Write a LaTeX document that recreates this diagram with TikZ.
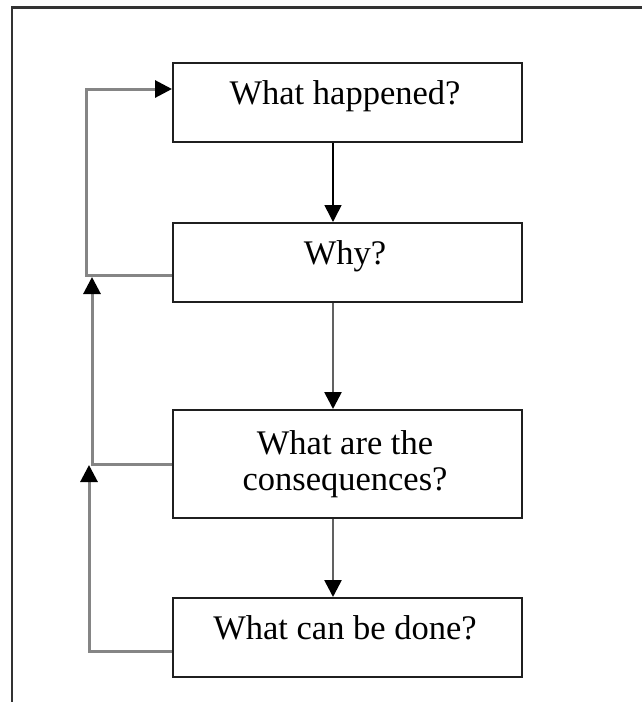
\documentclass[tikz,border=0pt]{standalone}
\usepackage{fontspec}
\setmainfont{Liberation Serif}
\usetikzlibrary{arrows.meta}

\begin{document}
\begin{tikzpicture}[x=1pt, y=-1pt,
  stepbox/.style={draw=black!88, line width=2pt, minimum width=349pt,
    minimum height=79pt, inner sep=0pt, anchor=north west},
  lbl/.style={font=\fontsize{34.5}{36}\selectfont, align=center, anchor=base, inner sep=0pt},
  tip/.style={-{Triangle[length=17pt, width=17pt, color=black]}},
  flow/.style={tip, line width=2.6pt, draw=black!62},
  back/.style={tip, line width=3pt, draw=black!48, line join=miter}]

  \useasboundingbox (0,0) rectangle (642,702);

  % outer frame (top and left edges only)
  \draw[line width=2.6pt, draw=black!80] (642,7.5) -- (12,7.5) -- (12,702);

  % the four question boxes
  \node (b1) [stepbox] at (172,62) {};
  \node (b2) [stepbox] at (172,222) {};
  \node (b3) [stepbox, minimum height=108pt] at (172,409) {};
  \node (b4) [stepbox] at (172,597) {};

  % their texts (base anchor of a two-line node sits on its last line)
  \node (t1) [lbl] at (345,104) {What happened?};
  \node (t2) [lbl] at (345,264) {Why?};
  \node (t3) [lbl] at (345,490) {What are the\\consequences?};
  \node (t4) [lbl] at (345,639) {What can be done?};

  % downward flow
  \coordinate (ax) at (333,0);
  \draw[flow, draw=black, line width=1.6pt] (b1.south -| ax) -- (b2.north -| ax);
  \draw[flow] (b2.south -| ax) -- (b3.north -| ax);
  \draw[flow] (b3.south -| ax) -- (b4.north -| ax);

  % feedback loops on the left
  \coordinate (c1) at (86,88);
  \coordinate (c2) at (92,277);
  \coordinate (c3) at (89,465);
  \draw[back] ([yshift=-12.5pt]b2.west) -| (c1) |- ([yshift=13.5pt]b1.west);
  \draw[back] (b3.west) -| (c2);
  \draw[back] ([yshift=-13.5pt]b4.west) -| (c3);
\end{tikzpicture}
\end{document}
